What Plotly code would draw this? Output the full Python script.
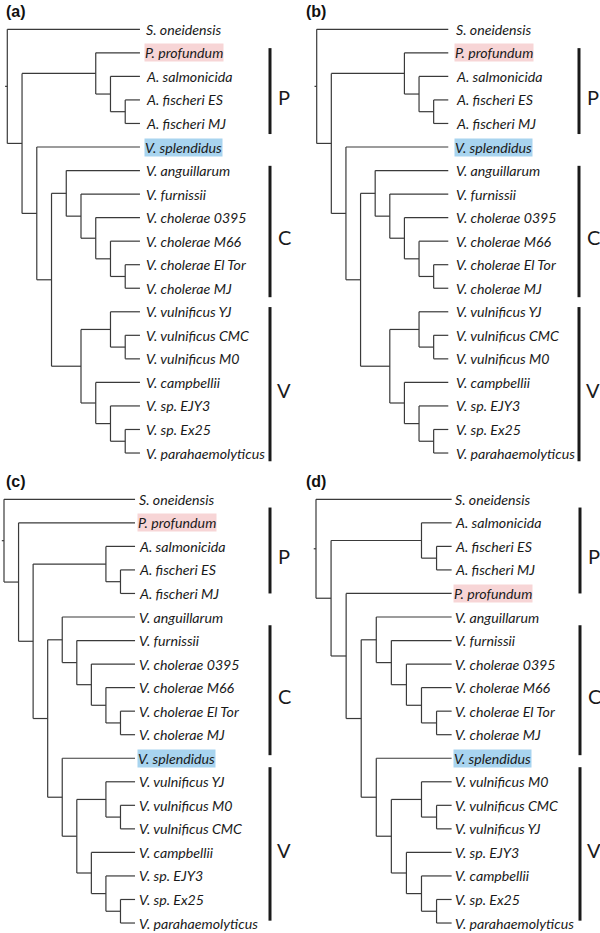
import plotly.graph_objects as go

# ---------------- data: tree topologies (Newick) ----------------
C_CLADE = "(V. anguillarum,(V. furnissii,(V. cholerae 0395,(V. cholerae M66,(V. cholerae El Tor,V. cholerae MJ)))))"
V_CLADE_AB = "((V. vulnificus YJ,(V. vulnificus CMC,V. vulnificus M0)),(V. campbellii,(V. sp. EJY3,(V. sp. Ex25,V. parahaemolyticus))))"
V_CLADE_C = "((V. vulnificus YJ,(V. vulnificus M0,V. vulnificus CMC)),(V. campbellii,(V. sp. EJY3,(V. sp. Ex25,V. parahaemolyticus))))"
V_CLADE_D = "((V. vulnificus M0,(V. vulnificus CMC,V. vulnificus YJ)),(V. sp. EJY3,(V. campbellii,(V. sp. Ex25,V. parahaemolyticus))))"
A_CLADE = "(A. salmonicida,(A. fischeri ES,A. fischeri MJ))"

TREE_A = f"(S. oneidensis,((P. profundum,{A_CLADE}),(V. splendidus,({C_CLADE},{V_CLADE_AB}))))"
TREE_B = TREE_A
TREE_C = f"(S. oneidensis,(P. profundum,({A_CLADE},({C_CLADE},(V. splendidus,{V_CLADE_C})))))"
TREE_D = f"(S. oneidensis,({A_CLADE},(P. profundum,({C_CLADE},(V. splendidus,{V_CLADE_D})))))"

panel_labels = ["(a)", "(b)", "(c)", "(d)"]
trees = [TREE_A, TREE_B, TREE_C, TREE_D]

highlight = {"P. profundum": "#f7d5d6", "V. splendidus": "#a8d4ef"}

clade_names = ["P", "C", "V"]
# clade bar extents in row units (start, end)
clade_bars = [
    [(0.8, 4.45), (5.8, 11.38), (11.8, 18.35)],
    [(0.8, 4.45), (5.8, 11.38), (11.8, 18.35)],
    [(0.35, 4.0), (5.35, 10.87), (11.38, 17.9)],
    [(0.35, 4.0), (5.35, 10.87), (11.38, 17.9)],
]

# ---------------- panel geometry (pixels) ----------------
W, H = 600, 933
# root px (within panel), px per level, label gap (levels), bar x (px), letter x (px)
geom = [
    dict(ox=0,   oy=0,   root=7.3,  unit=14.74, gap=0.30, bar=270, letter=284),
    dict(ox=300, oy=0,   root=16.7, unit=14.62, gap=0.42, bar=279, letter=293),
    dict(ox=0,   oy=470, root=4.0,  unit=14.56, gap=0.10, bar=270, letter=284),
    dict(ox=300, oy=470, root=16.0, unit=15.07, gap=0.08, bar=280, letter=294),
]
ROW0 = 29.3   # px of first row from panel top
ROWSTEP = 23.54


def parse(s):
    pos = 0

    def node():
        nonlocal pos
        if s[pos] == "(":
            pos += 1
            ch = [node()]
            while s[pos] == ",":
                pos += 1
                ch.append(node())
            pos += 1
            return {"children": ch}
        start = pos
        while pos < len(s) and s[pos] not in ",()":
            pos += 1
        return {"name": s[start:pos].strip()}

    return node()


def layout_tree(root):
    leaves = []

    def height(n):
        if "children" not in n:
            n["h"] = 0
        else:
            n["h"] = 1 + max(height(c) for c in n["children"])
        return n["h"]

    height(root)
    Hr = root["h"]

    def place(n):
        n["x"] = Hr - n["h"]
        if "children" not in n:
            n["y"] = len(leaves)
            leaves.append(n)
        else:
            for c in n["children"]:
                place(c)
            n["y"] = (n["children"][0]["y"] + n["children"][-1]["y"]) / 2

    place(root)
    return root, leaves, Hr


fig = go.Figure()
annotations = []
TREE_COLOR = "#3a3a3a"
TEXT_COLOR = "#1a1a1a"

for i, (tree_s, g) in enumerate(zip(trees, geom)):
    root, leaves, Hr = layout_tree(parse(tree_s))
    xs, ys = [], []

    def walk(n):
        if "children" in n:
            ch = n["children"]
            xs.extend([n["x"], n["x"], None])
            ys.extend([ch[0]["y"], ch[-1]["y"], None])
            for c in ch:
                xs.extend([n["x"], c["x"], None])
                ys.extend([c["y"], c["y"], None])
                walk(c)

    walk(root)
    # root stub
    xs.extend([root["x"] - 0.15, root["x"], None])
    ys.extend([root["y"], root["y"], None])

    sfx = "" if i == 0 else str(i + 1)
    xa, ya = "x" + sfx, "y" + sfx
    fig.add_trace(go.Scatter(x=xs, y=ys, mode="lines", xaxis=xa, yaxis=ya,
                             line=dict(color=TREE_COLOR, width=1.2),
                             hoverinfo="skip", showlegend=False))

    unit = g["unit"]
    bar_x = (g["bar"] - g["root"]) / unit
    let_x = (g["letter"] - g["root"]) / unit
    for name, (b0, b1) in zip(clade_names, clade_bars[i]):
        fig.add_trace(go.Scatter(x=[bar_x, bar_x], y=[b0, b1], mode="lines",
                                 xaxis=xa, yaxis=ya,
                                 line=dict(color="#1a1a1a", width=3),
                                 hoverinfo="skip", showlegend=False))
        annotations.append(dict(x=let_x, y=(b0 + b1) / 2 + 0.25, xref=xa, yref=ya,
                                text=name, showarrow=False, xanchor="center",
                                yanchor="middle",
                                font=dict(family="Lato", size=20, color=TEXT_COLOR)))

    for lf in leaves:
        nm = lf["name"]
        ann = dict(x=Hr + g["gap"], y=lf["y"], xref=xa, yref=ya,
                   text=f"<i>{nm}</i>", showarrow=False, xanchor="left",
                   yanchor="middle", font=dict(family="Lato", size=14.2, color=TEXT_COLOR))
        if nm in highlight:
            ann["bgcolor"] = highlight[nm]
            ann["borderpad"] = 0
        annotations.append(ann)

    # axes
    x0 = (0 - g["root"]) / unit
    x1 = (300 - g["root"]) / unit
    top_px = 0 if g["oy"] == 0 else 470
    bot_px = 470 if g["oy"] == 0 else H
    yr_top = (top_px - g["oy"] - ROW0) / ROWSTEP
    yr_bot = (bot_px - g["oy"] - ROW0) / ROWSTEP
    dom_x = [g["ox"] / W, (g["ox"] + 300) / W]
    dom_y = [1 - bot_px / H, 1 - top_px / H]
    axis_common = dict(visible=False, showgrid=False, zeroline=False, fixedrange=True)
    fig.layout["xaxis" + sfx] = dict(domain=dom_x, range=[x0, x1], anchor=ya, **axis_common)
    fig.layout["yaxis" + sfx] = dict(domain=dom_y, range=[yr_bot, yr_top], anchor=xa, **axis_common)

    annotations.append(dict(x=(g["ox"] + 4) / W, y=1 - (g["oy"] + 1) / H,
                            xref="paper", yref="paper", text="<b>" + panel_labels[i] + "</b>",
                            showarrow=False, xanchor="left", yanchor="top",
                            font=dict(family="Liberation Sans", size=16, color="#111111")))

fig.update_layout(width=W, height=H, margin=dict(l=0, r=0, t=0, b=0, autoexpand=False),
                  paper_bgcolor="white", plot_bgcolor="white",
                  annotations=annotations, showlegend=False)

fig.write_html("out.html", config={"displayModeBar": False},
               post_script="document.body.style.margin='0';document.body.style.overflow='hidden';")
